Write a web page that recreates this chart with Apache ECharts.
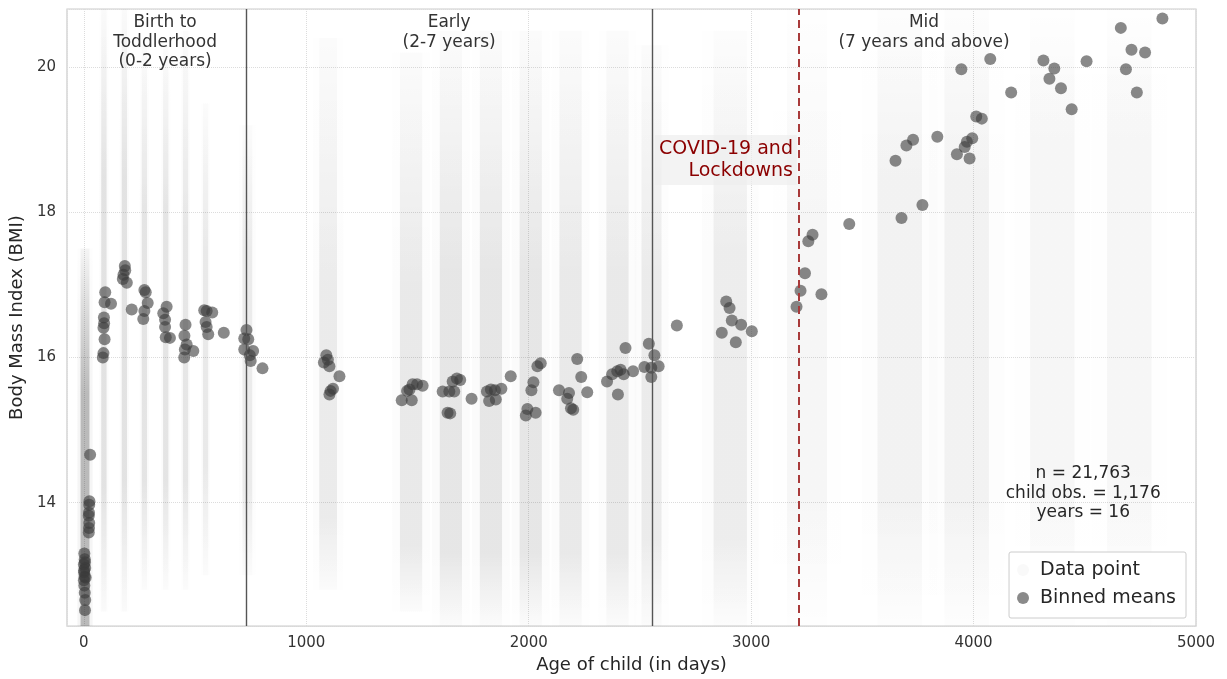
<!DOCTYPE html>
<html><head><meta charset="utf-8">
<script src="https://cdn.jsdelivr.net/npm/echarts@6/dist/echarts.min.js"></script>
<style>html,body{margin:0;padding:0;background:#fff}#chart{width:1227px;height:679px}</style>
</head><body><div id="chart"></div>
<script>
// ---- Binned means (age in days, BMI) ----
const meanAge = [2,4,0,6,1,3,0,5,2,4,6,5,8,1,25,24,23,22,24,23,22,28,
  96,93,122,90,91,88,93,88,85,
  184,186,178,175,193,215,
  272,278,287,272,267,
  357,372,365,365,368,387,
  457,452,462,454,451,492,
  541,552,577,547,552,559,629,
  731,721,739,721,746,761,750,803,
  1090,1097,1079,1104,1149,1120,1109,1104,
  1429,1474,1453,1464,1478,1498,1523,
  1613,1643,1665,1658,1677,1692,1635,1647,1743,
  1812,1830,1848,1822,1852,1877,1919,
  1987,1994,2031,2012,2021,2039,2054,
  2136,2181,2173,2200,2190,2218,2236,2263,
  2352,2375,2398,2413,2427,2401,2435,2469,
  2520,2540,2551,2565,2551,2584,
  2666,
  2888,2903,2913,2955,2868,2931,3003,
  3204,3222,3242,3316,3276,3257,3441,
  3676,3770,3649,3698,3728,3837,3925,3982,3960,3970,3994,4012,4037,3945,4075,4169,
  4314,4363,4341,4393,4441,4508,4662,4710,4771,4685,4734,4849];
const meanBMI = [13.30,13.22,13.15,13.10,13.04,12.98,12.93,13.18,12.86,12.76,12.66,12.52,12.97,13.07,14.02,13.97,13.86,13.82,13.72,13.65,13.59,14.66,
  16.90,16.76,16.74,16.55,16.47,16.41,16.25,16.06,16.00,
  17.26,17.20,17.14,17.08,17.03,16.66,
  16.93,16.90,16.75,16.64,16.53,
  16.61,16.70,16.52,16.42,16.28,16.27,
  16.45,16.30,16.18,16.11,16.00,16.09,
  16.65,16.64,16.62,16.49,16.42,16.32,16.34,
  16.38,16.26,16.25,16.11,16.03,16.09,15.95,15.85,
  16.03,15.97,15.93,15.88,15.74,15.57,15.54,15.49,
  15.41,15.41,15.54,15.56,15.63,15.63,15.61,
  15.53,15.53,15.53,15.67,15.71,15.69,15.24,15.23,15.43,
  15.53,15.56,15.55,15.40,15.42,15.57,15.74,
  15.20,15.29,15.24,15.55,15.66,15.88,15.92,
  15.55,15.51,15.43,15.28,15.30,15.98,15.73,15.52,
  15.67,15.77,15.81,15.83,15.77,15.49,16.13,15.81,
  15.87,16.19,15.86,16.03,15.73,15.88,
  16.44,
  16.77,16.68,16.51,16.45,16.34,16.21,16.36,
  16.70,16.92,17.16,16.87,17.69,17.60,17.84,
  17.92,18.10,18.71,18.92,19.00,19.04,18.80,18.74,18.90,18.97,19.02,19.32,19.29,19.97,20.11,19.65,
  20.09,19.98,19.84,19.71,19.42,20.08,20.54,20.24,20.20,19.97,19.65,20.67];

// ---- Raw data point clouds (estimated visit clusters) ----
const bgAge       = [5, 90, 182, 272, 368, 457, 547, 735, 1098, 1471, 1650, 1830, 2009, 2188, 2399, 2552, 2906, 3251, 3668, 3969, 4354, 4700];
const bgHalfWidth = [20, 12, 12, 12, 12, 12, 12, 22, 40, 50, 50, 50, 50, 50, 50, 45, 75, 90, 100, 100, 100, 100];
const bgLow       = [12.3, 12.5, 12.5, 12.8, 12.8, 12.8, 13.0, 13.0, 12.8, 12.5, 12.3, 12.3, 12.3, 12.3, 12.3, 12.3, 12.3, 12.3, 12.3, 12.3, 12.3, 12.3];
const bgHigh      = [17.5, 20.8, 20.8, 20.3, 20.3, 20.5, 19.5, 19.2, 20.4, 20.2, 20.5, 20.5, 20.5, 20.5, 20.5, 20.3, 20.5, 20.8, 20.8, 20.8, 20.8, 20.8];
const bgCoreLow   = [12.3, 14.2, 14.3, 14.3, 14.3, 14.3, 14.5, 14.2, 13.8, 13.4, 13.3, 13.3, 13.3, 13.3, 13.3, 13.5, 13.5, 14.0, 14.0, 14.0, 14.5, 14.5];
const bgCoreHigh  = [15.5, 18.5, 18.5, 18.0, 18.0, 17.8, 17.5, 17.5, 17.0, 17.0, 17.2, 17.2, 17.2, 17.2, 17.2, 17.2, 17.5, 18.0, 18.5, 18.5, 19.0, 19.0];
const bgDensity   = [1.6, 0.65, 0.65, 0.6, 0.6, 0.55, 0.5, 0.45, 0.45, 0.5, 0.55, 0.55, 0.55, 0.5, 0.5, 0.45, 0.4, 0.22, 0.28, 0.28, 0.22, 0.22];

// ---- Axes / annotations ----
const xTickValues = [0, 1000, 2000, 3000, 4000, 5000];
const yTickValues = [14, 16, 18, 20];
const phaseBoundaries = [730, 2555];
const covidDay = 3215;
const phaseLabels = ['Birth to\nToddlerhood\n(0-2 years)', 'Early\n(2-7 years)', 'Mid\n(7 years and above)'];
const phaseCenters = [365, 1642, 3777];
const covidLabel = 'COVID-19 and\nLockdowns';
const statsLabel = 'n = 21,763\nchild obs. = 1,176\nyears = 16';

const FONT = "'DejaVu Sans', sans-serif";
const chart = echarts.init(document.getElementById('chart'));

const bgData = bgAge.map((a, i) => [a, bgHalfWidth[i], bgLow[i], bgHigh[i], bgCoreLow[i], bgCoreHigh[i], bgDensity[i]]);
const meanData = meanAge.map((a, i) => [a, meanBMI[i]]);

function renderBand(params, api) {
  const c = api.value(0), w = api.value(1), lo = api.value(2), hi = api.value(3),
        cl = api.value(4), ch = api.value(5), d = api.value(6);
  const cs = params.coordSys;
  const col = a => 'rgba(0,0,0,' + a.toFixed(4) + ')';
  function mk(ww, alpha, fade) {
    const p1 = api.coord([c - ww, hi]), p2 = api.coord([c + ww, lo]);
    const shape = echarts.graphic.clipRectByRect(
      {x: p1[0], y: p1[1], width: p2[0] - p1[0], height: p2[1] - p1[1]},
      {x: cs.x, y: cs.y, width: cs.width, height: cs.height});
    if (!shape) return null;
    const f1 = Math.max((hi - ch) / (hi - lo), 0.001);
    const f2 = Math.min(Math.max((hi - cl) / (hi - lo), f1 + 0.001), 0.999);
    return {
      type: 'rect', shape: shape,
      style: {fill: new echarts.graphic.LinearGradient(0, 0, 0, 1, [
        {offset: 0, color: col(alpha * fade)},
        {offset: f1, color: col(alpha)},
        {offset: f2, color: col(alpha)},
        {offset: 1, color: col(alpha * fade)}])}
    };
  }
  const children = [mk(w * 1.7, 0.025 * d, 0.2), mk(w, 0.15 * d, 0.15)].filter(Boolean);
  return {type: 'group', children: children};
}

const vLine = (x, color, type, width) => ({
  xAxis: x, lineStyle: {color: color, type: type, width: width, opacity: 1}
});

const option = {
  animation: false,
  backgroundColor: '#ffffff',
  textStyle: {fontFamily: FONT},
  grid: {left: 65, right: 31, top: 9, bottom: 51, show: true, borderColor: '#cccccc', borderWidth: 1.2, containLabel: false},
  xAxis: {
    type: 'value', min: -76, max: 5000, splitNumber: 5,
    name: 'Age of child (in days)', nameLocation: 'middle', nameGap: 27,
    nameTextStyle: {fontSize: 18, color: '#262626', fontFamily: FONT},
    axisLine: {show: false}, axisTick: {show: false},
    axisLabel: {fontSize: 15, color: '#333333', margin: 10, fontFamily: FONT,
      formatter: v => xTickValues.some(t => Math.abs(t - v) < 1e-6) ? String(v) : ''},
    splitLine: {show: true, lineStyle: {color: '#dcdcdc', type: 'dotted', width: 1}}
  },
  yAxis: {
    type: 'value', min: 12.3, max: 20.8, splitNumber: 4,
    name: 'Body Mass Index (BMI)', nameLocation: 'middle', nameGap: 31,
    nameTextStyle: {fontSize: 18, color: '#262626', fontFamily: FONT},
    axisLine: {show: false}, axisTick: {show: false},
    axisLabel: {fontSize: 15, color: '#333333', margin: 11, fontFamily: FONT,
      formatter: v => yTickValues.some(t => Math.abs(t - v) < 1e-6) ? String(Math.round(v)) : ''},
    splitLine: {show: true, lineStyle: {color: '#dcdcdc', type: 'dotted', width: 1}}
  },
  legend: {
    right: 41, bottom: 61, orient: 'vertical',
    padding: [7, 10, 9, 8], itemGap: 6, itemWidth: 24, itemHeight: 12,
    borderColor: '#cccccc', borderWidth: 1, borderRadius: 2, backgroundColor: 'rgba(255,255,255,0.85)',
    textStyle: {fontSize: 19, color: '#262626', fontFamily: FONT, lineHeight: 22},
    data: [
      {name: 'Data point', icon: 'circle', itemStyle: {color: 'rgba(235,235,235,0.3)', opacity: 1}},
      {name: 'Binned means', icon: 'circle', itemStyle: {color: '#8a8a8a', opacity: 1}}
    ],
    selectedMode: false
  },
  series: [
    {
      name: 'Data point', type: 'custom', renderItem: renderBand, data: bgData,
      encode: {x: 0, y: 2}, z: 1, silent: true, clip: true
    },
    {
      name: 'Binned means', type: 'scatter', data: meanData, symbol: 'circle', symbolSize: 12,
      itemStyle: {color: 'rgba(58,58,58,0.6)', borderWidth: 0, opacity: 1}, z: 3, silent: true
    },
    {
      name: 'refLines', type: 'scatter', data: [], z: 4, silent: true,
      markLine: {
        silent: true, symbol: 'none', label: {show: false}, animation: false,
        data: [
          vLine(phaseBoundaries[0], '#555555', 'solid', 1.4),
          vLine(phaseBoundaries[1], '#555555', 'solid', 1.4),
          vLine(covidDay, '#a83a3a', [8, 5], 2)
        ]
      }
    },
    {
      name: 'labels', type: 'scatter', symbolSize: 0, z: 6, silent: true,
      itemStyle: {opacity: 1},
      data: [
        ...phaseLabels.map((t, i) => ({
          value: [phaseCenters[i], 20.8],
          label: {show: true, position: 'bottom', distance: 4, formatter: t, align: 'center',
            fontSize: 17, lineHeight: 19.5, color: '#333333', fontFamily: FONT, opacity: 1}
        })),
        {
          value: [covidDay, 18.72],
          label: {show: true, position: 'left', distance: 2, formatter: covidLabel, align: 'right',
            fontSize: 19, lineHeight: 22, color: '#8b0000', fontFamily: FONT, opacity: 1,
            backgroundColor: 'rgba(238,238,238,0.7)', padding: [3, 4, 3, 4]}
        },
        {
          value: [4493, 14.13],
          label: {show: true, position: 'inside', formatter: statsLabel, align: 'center',
            fontSize: 17, lineHeight: 19.5, color: '#262626', fontFamily: FONT, opacity: 1}
        }
      ]
    }
  ]
};
chart.setOption(option);
</script>
</body></html>
